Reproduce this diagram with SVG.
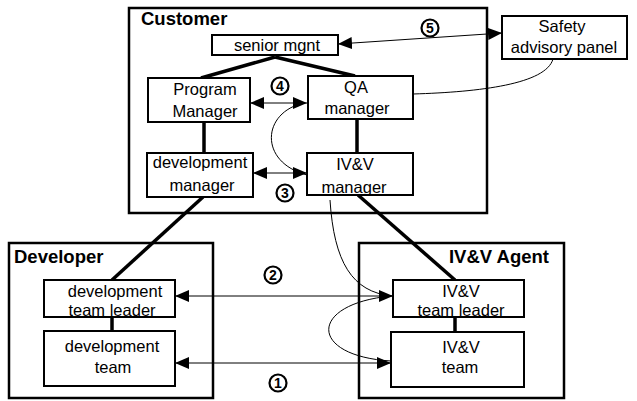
<svg xmlns="http://www.w3.org/2000/svg" width="637" height="401" viewBox="0 0 637 401">
  <style>
    .frame { fill: none; stroke: #000; stroke-width: 2.5; }
    .box { fill: #fff; stroke: #000; stroke-width: 2; }
    .txt { font-family: "Liberation Sans", Arial, sans-serif; font-size: 16.5px; fill: #000; text-anchor: middle; }
    .title { font-family: "Liberation Sans", Arial, sans-serif; font-size: 18.5px; font-weight: bold; fill: #000; }
    .num { font-family: "Liberation Sans", Arial, sans-serif; font-size: 14px; font-weight: bold; fill: #000; text-anchor: middle; }
    .ring { fill: #fff; stroke: #000; stroke-width: 2.2; }
    .tie { stroke: #000; stroke-width: 3.5; fill: none; }
    .link { stroke: #000; stroke-width: 1; fill: none; }
    .arrow { stroke: #000; stroke-width: 1; fill: none; marker-start: url(#head); marker-end: url(#head); }
  </style>
  <defs>
    <marker id="head" viewBox="0 0 14 12" refX="14" refY="6" markerWidth="14" markerHeight="12" markerUnits="userSpaceOnUse" orient="auto-start-reverse">
      <path d="M0,0 L14,6 L0,12 Z" fill="#000"/>
    </marker>
  </defs>

  <!-- organisation frames -->
  <g id="customer">
    <rect class="frame" x="129" y="8" width="358" height="205"/>
    <text class="title" x="141" y="25">Customer</text>
  </g>
  <g id="developer">
    <rect class="frame" x="9" y="243" width="204" height="155"/>
    <text class="title" x="14" y="263">Developer</text>
  </g>
  <g id="ivv-agent">
    <rect class="frame" x="359" y="243" width="205" height="155"/>
    <text class="title" x="549" y="263" text-anchor="end">IV&amp;V Agent</text>
  </g>

  <!-- connectors -->
  <g id="connectors">
    <!-- reporting lines -->
    <line class="tie" x1="275" y1="57" x2="201" y2="78"/>
    <line class="tie" x1="275" y1="57" x2="355" y2="76"/>
    <line class="tie" x1="204" y1="122" x2="204" y2="153"/>
    <line class="tie" x1="357" y1="119" x2="357" y2="153"/>
    <line class="tie" x1="203" y1="197" x2="112" y2="280"/>
    <line class="tie" x1="358" y1="195" x2="455" y2="280"/>
    <line class="tie" x1="112" y1="317" x2="112" y2="331"/>
    <line class="tie" x1="455" y1="317" x2="455" y2="332"/>

    <!-- communication paths -->
    <line class="arrow" x1="250" y1="103" x2="307" y2="103"/>
    <line class="arrow" x1="253" y1="173" x2="307" y2="173"/>
    <line class="arrow" x1="338" y1="44" x2="502" y2="33"/>
    <line class="arrow" x1="175" y1="296" x2="393" y2="296"/>
    <line class="arrow" x1="175" y1="363" x2="391" y2="363"/>

    <path class="link" d="M304,103 C262,112 258,162 307,175"/>
    <path class="link" d="M553,59 C546,84 480,92 413,94"/>
    <path class="link" d="M330,200 C334,262 352,292 392,296"/>
    <path class="link" d="M391,296 C308,304 308,356 391,361"/>
  </g>

  <!-- nodes -->
  <g id="senior-mgnt">
    <rect class="box" x="212" y="35" width="126" height="20"/>
    <text class="txt" x="277" y="51">senior mgnt</text>
  </g>
  <g id="program-manager">
    <rect class="box" x="148" y="78" width="102" height="44"/>
    <text class="txt" x="205" y="95">Program</text>
    <text class="txt" x="205" y="117">Manager</text>
  </g>
  <g id="qa-manager">
    <rect class="box" x="308" y="76" width="105" height="43"/>
    <text class="txt" x="356" y="93">QA</text>
    <text class="txt" x="357" y="114">manager</text>
  </g>
  <g id="development-manager">
    <rect class="box" x="147" y="153" width="106" height="44"/>
    <text class="txt" x="200" y="168">development</text>
    <text class="txt" x="202" y="191">manager</text>
  </g>
  <g id="ivv-manager">
    <rect class="box" x="307" y="153" width="106" height="42"/>
    <text class="txt" x="355" y="170">IV&amp;V</text>
    <text class="txt" x="354" y="193">manager</text>
  </g>
  <g id="safety-panel">
    <rect class="box" x="502" y="16" width="125" height="43"/>
    <text class="txt" x="562" y="32">Safety</text>
    <text class="txt" x="564" y="53">advisory panel</text>
  </g>
  <g id="dev-team-leader">
    <rect class="box" x="44" y="280" width="131" height="37"/>
    <text class="txt" x="115" y="297">development</text>
    <text class="txt" x="112" y="316">team leader</text>
  </g>
  <g id="dev-team">
    <rect class="box" x="44" y="331" width="131" height="55"/>
    <text class="txt" x="112" y="352">development</text>
    <text class="txt" x="113" y="373">team</text>
  </g>
  <g id="ivv-team-leader">
    <rect class="box" x="393" y="280" width="131" height="37"/>
    <text class="txt" x="461" y="297">IV&amp;V</text>
    <text class="txt" x="461" y="316">team leader</text>
  </g>
  <g id="ivv-team">
    <rect class="box" x="391" y="332" width="133" height="55"/>
    <text class="txt" x="461" y="353">IV&amp;V</text>
    <text class="txt" x="460" y="373">team</text>
  </g>

  <!-- numbered path markers -->
  <g id="mark-1"><circle class="ring" cx="278" cy="383" r="8.5"/><text class="num" x="278" y="388">1</text></g>
  <g id="mark-2"><circle class="ring" cx="273" cy="275" r="8.5"/><text class="num" x="273" y="280">2</text></g>
  <g id="mark-3"><circle class="ring" cx="285" cy="193" r="8.5"/><text class="num" x="285" y="198">3</text></g>
  <g id="mark-4"><circle class="ring" cx="280" cy="86" r="8.5"/><text class="num" x="280" y="91">4</text></g>
  <g id="mark-5"><circle class="ring" cx="430" cy="28" r="8.5"/><text class="num" x="430" y="33">5</text></g>
</svg>
